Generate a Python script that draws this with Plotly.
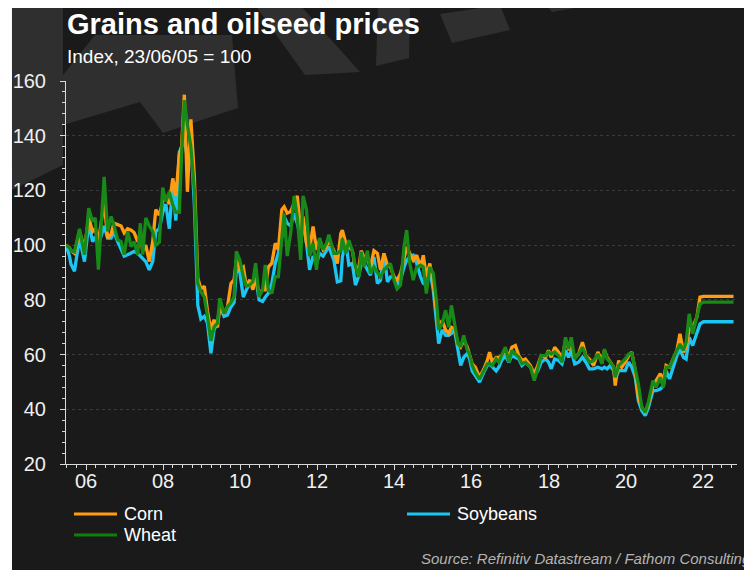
import plotly.graph_objects as go

# decimal years (data index 23/06/05 = 100)
years = [
    2005.48, 2005.57, 2005.61, 2005.70, 2005.83, 2005.96, 2006.07, 2006.17, 2006.24, 2006.32,
    2006.47, 2006.56, 2006.65, 2006.72, 2006.82, 2006.91, 2006.99, 2007.08, 2007.17, 2007.25,
    2007.34, 2007.41, 2007.47, 2007.55, 2007.64, 2007.73, 2007.81, 2007.90, 2007.99, 2008.07,
    2008.16, 2008.25, 2008.33, 2008.42, 2008.48, 2008.55, 2008.63, 2008.72, 2008.81, 2008.90,
    2008.98, 2009.07, 2009.15, 2009.24, 2009.32, 2009.41, 2009.47, 2009.58, 2009.67, 2009.76,
    2009.84, 2009.90, 2009.99, 2010.08, 2010.16, 2010.25, 2010.33, 2010.40, 2010.49, 2010.58,
    2010.65, 2010.73, 2010.82, 2010.91, 2010.99, 2011.08, 2011.14, 2011.22, 2011.31, 2011.40,
    2011.48, 2011.57, 2011.63, 2011.72, 2011.80, 2011.89, 2011.98, 2012.06, 2012.15, 2012.24,
    2012.30, 2012.43, 2012.52, 2012.61, 2012.65, 2012.74, 2012.82, 2012.91, 2012.99, 2013.08,
    2013.14, 2013.21, 2013.30, 2013.38, 2013.47, 2013.56, 2013.64, 2013.73, 2013.82, 2013.90,
    2013.99, 2014.07, 2014.16, 2014.25, 2014.32, 2014.40, 2014.49, 2014.58, 2014.68, 2014.75,
    2014.83, 2014.92, 2015.01, 2015.09, 2015.15, 2015.24, 2015.33, 2015.41, 2015.48, 2015.56,
    2015.65, 2015.72, 2015.80, 2015.89, 2015.95, 2016.02, 2016.10, 2016.21, 2016.32, 2016.41,
    2016.47, 2016.54, 2016.64, 2016.71, 2016.78, 2016.88, 2016.97, 2017.05, 2017.14, 2017.23,
    2017.31, 2017.40, 2017.53, 2017.63, 2017.72, 2017.81, 2017.92, 2018.00, 2018.07, 2018.16,
    2018.26, 2018.35, 2018.44, 2018.52, 2018.59, 2018.68, 2018.78, 2018.88, 2018.97, 2019.06,
    2019.17, 2019.28, 2019.39, 2019.45, 2019.52, 2019.60, 2019.69, 2019.73, 2019.82, 2019.90,
    2019.99, 2020.08, 2020.16, 2020.25, 2020.33, 2020.42, 2020.51, 2020.59, 2020.71, 2020.79,
    2020.90, 2020.98, 2021.05, 2021.14, 2021.24, 2021.33, 2021.41, 2021.50, 2021.57, 2021.65,
    2021.74, 2021.85, 2021.93, 2022.02, 2022.80,
]

corn = [
    100, 99, 98, 97, 105, 99, 110, 105, 106, 101,
    116, 102.6, 104, 108, 107.5, 107, 104.5, 106, 105.5, 104.5,
    101.3, 104, 98, 100, 94, 101.3, 113, 111, 116, 117.5,
    115, 124.4, 118, 133, 136, 155, 119.5, 146, 125, 88,
    84, 85, 76, 69, 72.7, 70, 77.5, 75, 77.5, 86,
    87.3, 94.6, 91, 92, 85, 87.3, 83.7, 88.5, 82.4, 83.7,
    83.7, 92, 93.4, 100.7, 98.3, 113, 114, 111.7, 112.3, 115.4,
    118, 105.6, 110.5, 100.7, 98.3, 106.8, 98.3, 102, 98.3, 99.5,
    102, 98, 93.3, 104.3, 105.5, 100.6, 99.4, 98, 90.9, 92,
    98, 95.7, 94.5, 92, 98, 97, 90.9, 97, 92.7, 92,
    88.4, 87.2, 89.6, 95.7, 99.4, 97, 94.5, 96.3, 92, 96.3,
    88.4, 93.3, 86, 76.2, 70, 72.5, 69, 67.7, 70, 69.5,
    64, 62.8, 65.2, 62.8, 60.2, 56.6, 55.4, 51.7, 54.7, 57.8,
    60.9, 57.2, 59, 59, 59.6, 61.5, 59.6, 62.7, 63.3, 59.6,
    57.8, 58.4, 56, 52.9, 56, 59.6, 59, 61.5, 59, 62.7,
    60.9, 58.4, 65.1, 62.1, 62.7, 59, 60.2, 64.5, 59.6, 58.4,
    56, 60.9, 57.8, 61.5, 59, 57.2, 55.4, 48.7, 57.8, 55.4,
    57.2, 59.6, 60.9, 54.1, 44.4, 40.7, 38.9, 42, 48.7, 50.5,
    53, 50.5, 56, 55.4, 58.4, 61.5, 67.6, 60.9, 62.7, 69.4,
    70, 73.7, 81, 81.3, 81.3,
]

wheat = [
    100, 99, 98, 97.5, 106, 96.5, 113.5, 108.6, 110, 91,
    125, 105, 110.5, 107.5, 102, 101.3, 96.5, 105, 99.5, 101.3,
    96.5, 108, 96.5, 110, 107, 105, 100, 101, 121, 116,
    119.5, 114.7, 112, 112, 133, 153, 144, 136, 120, 86,
    83, 81, 74, 65, 70, 71.5, 80.6, 75, 77.5, 79,
    81, 97.7, 94.6, 88.5, 85, 85.5, 86.7, 93.4, 81, 83.7,
    92.8, 83.7, 82.4, 88.5, 88.5, 104.4, 111.7, 96, 104.4, 118,
    110.5, 94.6, 118, 113, 96, 100.7, 91, 102.6, 98.3, 100.7,
    103.8, 97, 97, 98, 102.4, 97, 101.8, 98, 92, 88.4,
    97.6, 92, 98, 89.6, 92, 90, 88.4, 90.9, 92, 93.3,
    87.2, 84, 85.4, 99.4, 105.5, 93.3, 87.2, 92, 92.7, 92,
    82.3, 92, 89.6, 80, 69, 71.3, 76.2, 70, 78, 71.3,
    64, 62.8, 67, 61.6, 60.2, 56, 53.5, 51, 54, 56.6,
    56.6, 56, 58.4, 57.2, 59.6, 62.7, 57.2, 61.5, 60.2, 59,
    56.6, 57.2, 55.4, 50.5, 54.8, 59.6, 59.6, 60.9, 60.2, 60.9,
    59.6, 57.2, 66.3, 62.1, 66.3, 58.4, 60.2, 62.7, 59.6, 57.2,
    57.8, 60.2, 56.6, 62, 58.4, 57.2, 55.4, 51.7, 56, 57.2,
    58.4, 60.2, 60.5, 54.8, 49.3, 40.7, 38.9, 42.5, 50.5, 48,
    51.7, 48, 55.4, 55.4, 59, 61.5, 63.9, 61.5, 64.5, 74.9,
    67.6, 74.3, 78.5, 79.2, 79.2,
]

soybeans = [
    100, 96, 93, 90.5, 102.6, 94, 108, 101.3, 103, 100,
    107, 102.6, 102.6, 105, 101.3, 98.3, 96, 96.5, 97, 97.7,
    97, 96, 95, 94, 91, 94, 105, 106, 112, 115,
    106, 122, 109, 134, 136, 139, 131.7, 138, 115, 78,
    73, 74, 71.5, 60.5, 69, 71.5, 77.5, 74, 74.5, 77.5,
    79, 91, 90, 81, 83.7, 86, 86, 88.5, 80, 79.4,
    81, 82.4, 86, 93.4, 97, 103, 110.5, 108, 107, 111.7,
    108, 103, 108, 100.7, 91, 96, 93.4, 97, 96, 98.3,
    99.5, 94.5, 86.6, 87, 95.7, 101.2, 92.7, 93.3, 85.4, 89,
    93.3, 93.3, 90.9, 89, 95.7, 86, 87.2, 97, 86.6, 88.4,
    88.4, 84.8, 87.2, 92, 94.5, 95.7, 96.3, 93.3, 88.4, 86,
    85.4, 90.9, 83.5, 73.8, 64, 69, 67, 67, 67.7, 69,
    61.6, 56, 59, 60.4, 58.4, 54, 52.3, 49.9, 53.5, 56,
    56.6, 55.4, 54, 55.4, 57.8, 59.6, 57.2, 59.6, 59, 58.4,
    56, 57.2, 55.4, 52.3, 54, 57.2, 58.4, 57.2, 54.8, 58.4,
    57.8, 56.6, 61.5, 59, 61.5, 56.6, 57.2, 59, 57.2, 54.8,
    54.8, 55.4, 54.8, 55.4, 54.8, 56, 54.1, 51.1, 54.1, 54.1,
    54.1, 57.2, 55.4, 51.7, 43.2, 39.5, 37.7, 40.7, 46.8, 46.8,
    47.4, 48.7, 54.1, 51.1, 56, 59.6, 62, 59, 58.4, 66.3,
    63.3, 67.6, 71.2, 72, 72,
]

tick_years = [2006, 2008, 2010, 2012, 2014, 2016, 2018, 2020, 2022]
tick_labels = ["06", "08", "10", "12", "14", "16", "18", "20", "22"]

BG = "#1a1a1a"
SHADE = "#2f2f2f"
FONT = "Liberation Sans, Arial, sans-serif"

# the page puts the figure 8px in from the top left, so the figure is 744x562
OFF = 8
W, H = 752 - OFF, 570 - OFF
# plot area in page pixels: x 66..737, y 81..464
L, R, T, B = 66, 737, 81, 464


def px(x, y):
    return (x - L) / (R - L), (B - y) / (B - T)


def poly(points, color):
    pts = [px(x, y) for x, y in points]
    d = "M " + " L ".join(f"{a:.4f},{b:.4f}" for a, b in pts) + " Z"
    return dict(type="path", path=d, xref="paper", yref="paper",
                fillcolor=color, line=dict(width=0), layer="below")


shapes = [poly([(12, 0), (760, 0), (760, 580), (12, 580)], BG)]
# faint watermark in the top left corner
shapes += [
    poly([(12, 5), (63, 5), (63, 165), (12, 190)], SHADE),
    poly([(63, 125), (63, 75), (95, 35), (232, 35), (238, 108), (163, 133), (140, 102)], SHADE),
    poly([(255, 5), (300, 5), (360, 72), (305, 75)], SHADE),
    poly([(378, 5), (410, 5), (409, 58), (376, 66)], SHADE),
    poly([(440, 14), (500, 5), (510, 30), (452, 43)], SHADE),
    poly([(546, 5), (593, 5), (552, 12)], SHADE),
]

fig = go.Figure()
series = [("Soybeans", soybeans, "#1cc6f2"), ("Corn", corn, "#ff9c12"), ("Wheat", wheat, "#178a17")]
for name, vals, col in series:
    fig.add_trace(go.Scatter(x=years, y=vals, name=name, mode="lines",
                             line=dict(color=col, width=3.3), showlegend=False))

annotations = []


def text(x, y, s, size, color="#ffffff", anchor="left", bold=False, italic=False):
    xp, yp = px(x, y)
    if bold:
        s = "<b>" + s + "</b>"
    if italic:
        s = "<i>" + s + "</i>"
    annotations.append(dict(text=s, x=xp, y=yp, xref="paper", yref="paper",
                            xanchor=anchor, yanchor="middle", showarrow=False,
                            borderpad=0,
                            font=dict(size=size, color=color, family=FONT)))


text(66, 24, "Grains and oilseed prices", 29, bold=True)
text(66, 57, "Index, 23/06/05 = 100", 19)
text(752, 558, "Source: Refinitiv Datastream / Fathom Consulting", 15, color="#b4b4b4",
     anchor="right", italic=True)

# x tick labels sit closer to the axis than plotly puts them
_, ylab = px(0, 481)
for yr, lab in zip(tick_years, tick_labels):
    annotations.append(dict(text=lab, x=yr, y=ylab, xref="x", yref="paper",
                            xanchor="center", yanchor="middle", showarrow=False,
                            font=dict(size=20, color="#f0f0f0", family=FONT)))

# legend
legend_items = [("Corn", "#ff9c12", 74, 514), ("Soybeans", "#1cc6f2", 407, 514), ("Wheat", "#0e7e0e", 74, 535)]
for name, col, lx, ly in legend_items:
    x0, y0 = px(lx, ly)
    x1, _ = px(lx + 43, ly)
    shapes.append(dict(type="line", xref="paper", yref="paper", x0=x0, x1=x1, y0=y0, y1=y0,
                       line=dict(color=col, width=3)))
    text(lx + 49, ly, name, 18)

fig.update_layout(
    width=W, height=H,
    margin=dict(l=L - OFF, r=W - (R - OFF), t=T - OFF, b=H - (B - OFF)),
    paper_bgcolor="#ffffff",
    plot_bgcolor="rgba(0,0,0,0)",
    font=dict(family=FONT, color="#f0f0f0"),
    shapes=shapes,
    annotations=annotations,
    xaxis=dict(
        range=[2005.48, 2022.89], automargin=False,
        tickvals=tick_years, showticklabels=False,
        ticks="outside", ticklen=5, tickcolor="#d8d8d8", tickwidth=1,
        minor=dict(dtick=0.25, tick0=2006, ticks="outside", ticklen=3, tickcolor="#d8d8d8"),
        showline=True, linecolor="#d8d8d8", linewidth=1,
        showgrid=False, zeroline=False,
    ),
    yaxis=dict(
        range=[20, 160], dtick=20, tick0=20, automargin=False,
        ticks="outside", ticklen=5, tickcolor="#d8d8d8", tickwidth=1,
        minor=dict(dtick=4, ticks="outside", ticklen=3, tickcolor="#d8d8d8", showgrid=False),
        showline=True, linecolor="#d8d8d8", linewidth=1,
        showgrid=True, gridcolor="#3a3a3a", griddash="dot", gridwidth=1,
        zeroline=False, ticklabelstandoff=10,
        tickfont=dict(size=20, color="#f0f0f0"),
    ),
)

fig.write_html("out.html")
